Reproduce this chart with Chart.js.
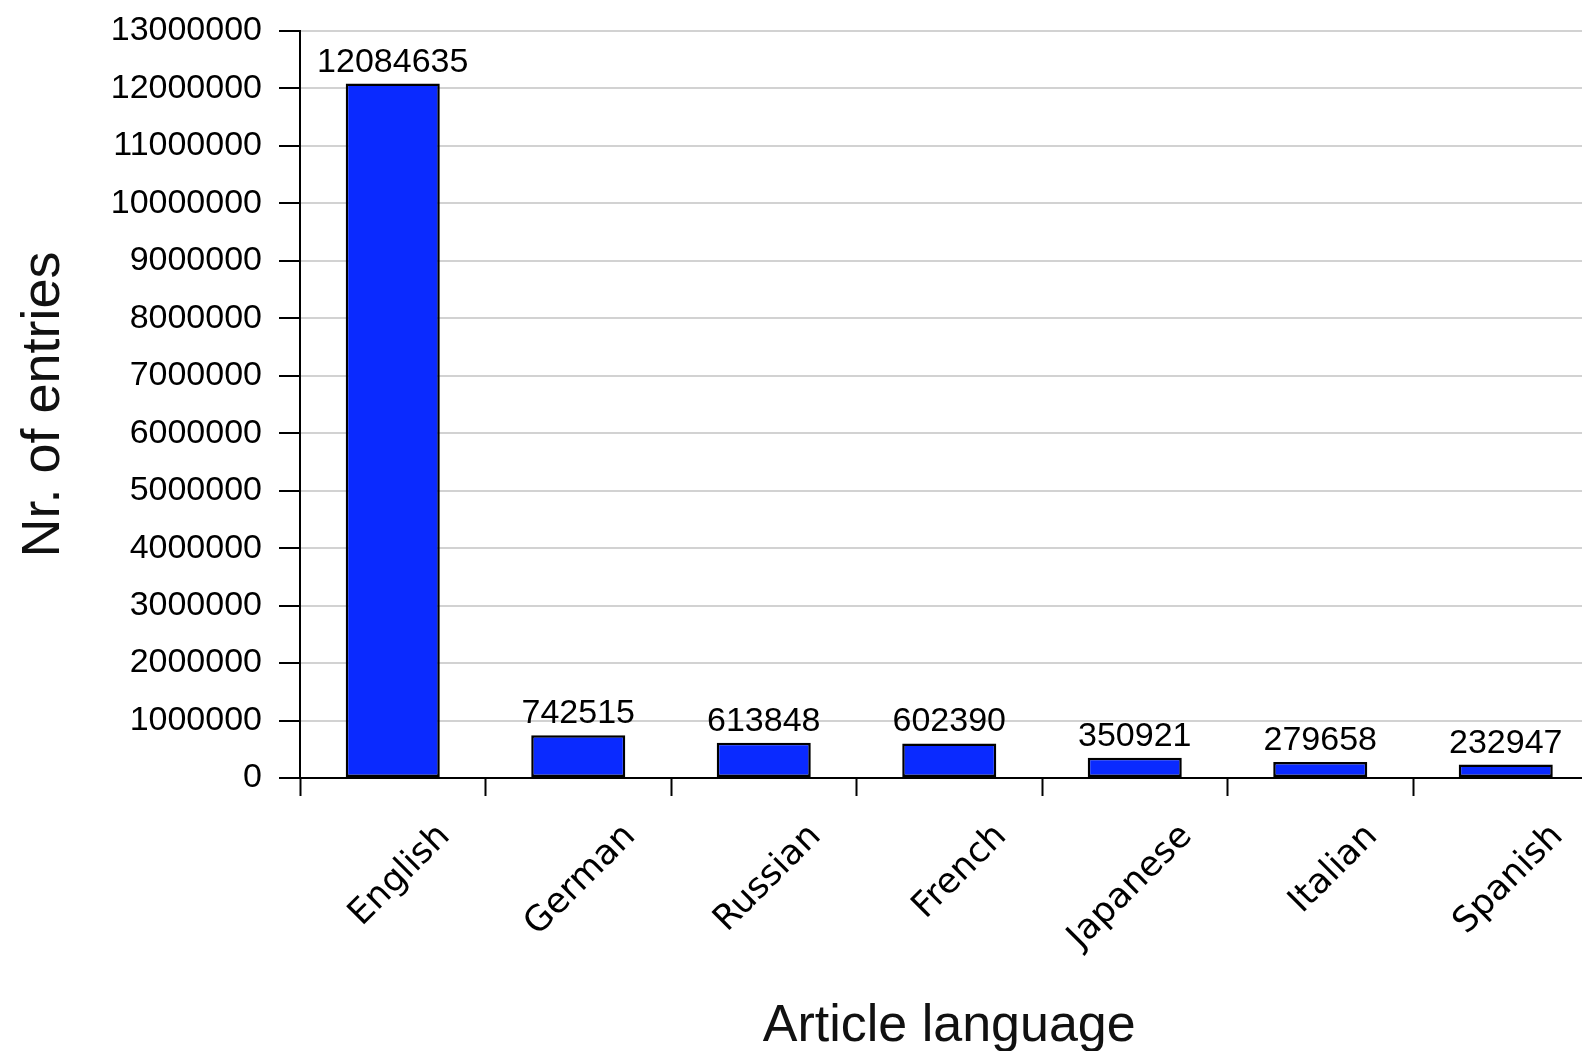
<!DOCTYPE html>
<html>
<head>
<meta charset="utf-8">
<title>Article language</title>
<script src="https://cdn.jsdelivr.net/npm/chart.js@4/dist/chart.umd.min.js"></script>
<style>
  html, body { margin: 0; padding: 0; background: #ffffff; overflow: hidden; }
  #wrap { width: 1582px; height: 1051px; overflow: hidden; }
  canvas { display: block; }
</style>
</head>
<body>
<div id="wrap"><canvas id="chart" width="1600" height="1051"></canvas></div>
<script>
// Number of entries per article language
const languages = ['English', 'German', 'Russian', 'French', 'Japanese', 'Italian', 'Spanish'];
const entries = [12084635, 742515, 613848, 602390, 350921, 279658, 232947];

// Value axis range
const yMin = 0;
const yMax = 13000000;
const yStep = 1000000;

const xTitle = 'Article language';
const yTitle = 'Nr. of entries';

const barBlue = '#0a2aff';
const gridGrey = '#d2d2d2';

// Writes each bar's value above it
const valueLabels = {
  id: 'valueLabels',
  afterDatasetsDraw(chart) {
    const ctx = chart.ctx;
    const meta = chart.getDatasetMeta(0);
    ctx.save();
    ctx.font = '34px "Liberation Sans", Arial, sans-serif';
    ctx.fillStyle = '#000000';
    ctx.textAlign = 'center';
    ctx.textBaseline = 'alphabetic';
    meta.data.forEach((bar, i) => {
      ctx.fillText(String(chart.data.datasets[0].data[i]), bar.x, bar.y - 12);
    });
    ctx.restore();
  }
};

new Chart(document.getElementById('chart'), {
  type: 'bar',
  data: {
    labels: languages,
    datasets: [{
      data: entries,
      backgroundColor: barBlue,
      borderColor: '#000000',
      borderWidth: 2.5,
      borderSkipped: false,
      categoryPercentage: 1.0,
      barPercentage: 0.507
    }]
  },
  options: {
    responsive: false,
    animation: false,
    devicePixelRatio: 1,
    layout: { padding: { top: 31, right: 1.5, bottom: 0, left: 0 } },
    plugins: {
      legend: { display: false },
      tooltip: { enabled: false }
    },
    scales: {
      x: {
        afterFit(scale) { scale.height = 273; },
        border: { display: true, color: '#000000', width: 2 },
        grid: {
          offset: true,
          drawOnChartArea: false,
          drawTicks: true,
          tickLength: 18,
          tickWidth: 2,
          tickColor: '#000000',
          color: '#000000'
        },
        ticks: {
          autoSkip: false,
          minRotation: 45,
          maxRotation: 45,
          labelOffset: 52,
          padding: 20,
          color: '#000000',
          font: { family: '"DejaVu Sans", Verdana, sans-serif', size: 35 }
        },
        title: {
          display: true,
          text: xTitle,
          color: '#111111',
          font: { family: '"Liberation Sans", Arial, sans-serif', size: 52, lineHeight: 1 },
          padding: { top: 0, bottom: -2 }
        }
      },
      y: {
        min: yMin,
        max: yMax,
        afterFit(scale) {
          scale.width = 300;
          scale.paddingTop = 0;
          scale.paddingBottom = 0;
        },
        border: { display: true, color: '#000000', width: 2 },
        grid: {
          color: gridGrey,
          lineWidth: 2,
          drawTicks: true,
          tickLength: 21,
          tickWidth: 2,
          tickColor: '#000000'
        },
        ticks: {
          stepSize: yStep,
          padding: 17,
          color: '#000000',
          font: { family: '"Liberation Sans", Arial, sans-serif', size: 34 },
          callback: (v) => String(v)
        },
        title: {
          display: true,
          text: yTitle,
          color: '#111111',
          font: { family: '"Liberation Sans", Arial, sans-serif', size: 54, lineHeight: 1.2 },
          padding: { top: 12, bottom: 0 }
        }
      }
    }
  },
  plugins: [valueLabels]
});
</script>
</body>
</html>
